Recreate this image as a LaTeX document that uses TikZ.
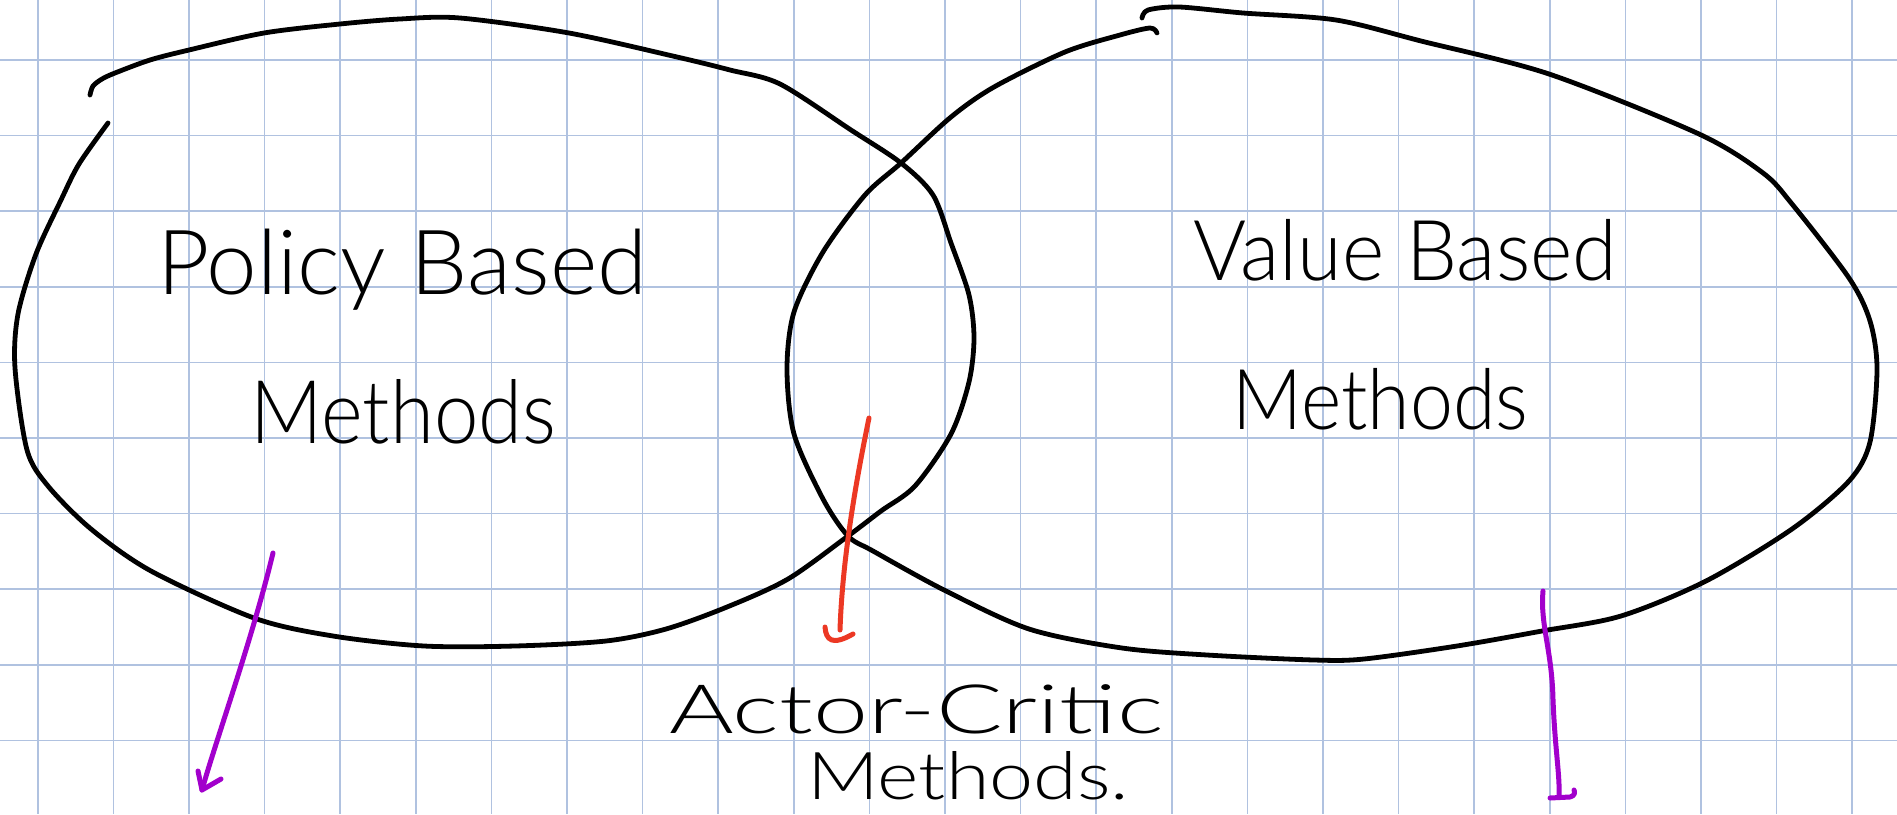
\documentclass[tikz,border=0pt]{standalone}
\usepackage{fontspec}
\usepackage{graphicx}
\newfontfamily\hand{Lato Light}
\definecolor{gridc}{RGB}{176,194,224}
\definecolor{purp}{RGB}{162,0,204}
\definecolor{redc}{RGB}{236,56,36}
\tikzset{
  gridline/.style={draw=gridc, line width=1.6pt},
  outline/.style={draw=black, line width=4.8pt, line cap=round, line join=round},
  pen/.style={line width=5pt, line cap=round, line join=round},
  handtxt/.style={inner sep=0pt, anchor=base west},
}
\begin{document}
\begin{tikzpicture}[x={(1pt,0)}, y={(0,-1pt)}]
\path[use as bounding box, fill=white] (0,0) rectangle (1897,814);
% grid
\foreach \i in {0,...,24} \draw[gridline] ({37.7+75.6*\i},0) -- ({37.7+75.6*\i},814);
\foreach \j in {0,...,9} \draw[gridline] (0,{60+75.6*\j}) -- (1897,{60+75.6*\j});

% left set (policy based)
\draw[outline] plot[smooth, tension=0.5] coordinates {
 (90,95) (93,86) (102,79) (115,73) (150,60) (189,50) (264,33) (340,24) (400,19) (460,18)
 (569,33) (677,57) (730,70) (780,84) (851,130) (901,163) (933,195) (951,243) (969,295)
 (974,338) (969,382) (951,434) (915,486) (881,511) (848,536) (788,579) (727,607)
 (666,629) (606,641) (515,646) (424,646) (333,636) (254,618) (151,571) (91,529)
 (48,486) (27,450) (15,368) (18,314) (36,254) (61,200) (79,164) (108,123)};

% right set (value based)
\draw[outline] plot[smooth, tension=0.5] coordinates {
 (1142,18) (1148,10) (1179,7) (1243,13) (1336,20) (1421,41) (1549,74) (1699,134)
 (1763,173) (1792,204) (1849,278) (1870,321) (1877,369) (1870,442) (1849,481)
 (1792,529) (1706,581) (1621,616) (1542,631) (1457,646) (1364,659) (1314,660)
 (1207,655) (1122,648) (1029,629) (944,590) (873,551) (848,536) (823,499)
 (794,434) (787,369) (794,312) (823,252) (865,195) (901,163) (951,117) (994,87)
 (1065,52) (1120,35) (1150,28) (1157,33)};

% texts
\node[handtxt, font=\hand\fontsize{90}{90}\selectfont] (pbt) at (157,294) {\resizebox{490pt}{\height}{Policy Based}};
\node[handtxt, font=\hand\fontsize{88}{88}\selectfont] (pmt) at (250,443) {\resizebox{306pt}{\height}{Methods}};
\node[handtxt, font=\hand\fontsize{84}{84}\selectfont] (vbt) at (1193,280) {\resizebox{424pt}{\height}{Value Based}};
\node[handtxt, font=\hand\fontsize{84}{84}\selectfont] (vmt) at (1232,429) {\resizebox{296pt}{\height}{Methods}};
\node[handtxt, font=\hand\fontsize{68}{68}\selectfont] (act) at (669,733) {\resizebox{494pt}{\height}{Actor-Critic}};
\node[handtxt, font=\hand\fontsize{66}{66}\selectfont] (amt) at (807,799) {\resizebox{322pt}{\height}{Methods.}};

% arrows
\coordinate (p1s) at (273,553);
\coordinate (p1e) at (202,790);
\draw[pen, draw=purp] (p1s) .. controls (252,640) and (216,740) .. (p1e);
\draw[pen, draw=purp] (198,771) -- (p1e) -- (221,779);

\coordinate (rs) at (869,418);
\coordinate (re) at (840,630);
\draw[pen, draw=redc] (rs) .. controls (852,500) and (842,570) .. (re);
\draw[pen, draw=redc] (825,627) .. controls (826,640) and (832,646) .. (853,634);

\coordinate (p2s) at (1543,591);
\coordinate (p2e) at (1559,797);
\draw[pen, draw=purp] (p2s) .. controls (1540,625) and (1552,650) .. (1553,700) .. controls (1555,750) and (1560,775) .. (p2e);
\draw[pen, draw=purp] (1550,798) -- (1570,797) .. controls (1575,796) and (1575,792) .. (1574,790);
\end{tikzpicture}
\end{document}
